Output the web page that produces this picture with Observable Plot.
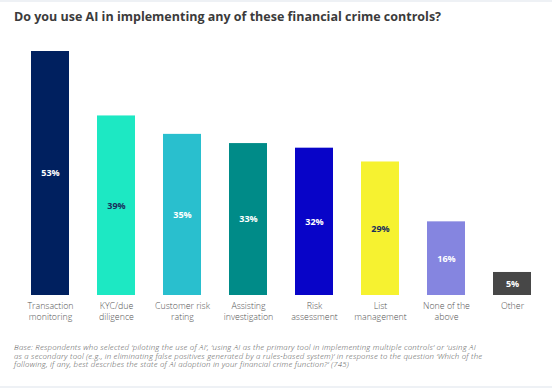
<!DOCTYPE html>
<html>
<head>
<meta charset="utf-8">
<script src="https://cdn.jsdelivr.net/npm/d3@7"></script>
<script src="https://cdn.jsdelivr.net/npm/@observablehq/plot@0.6"></script>
<style>
  html, body { margin: 0; padding: 0; background: #fff; }
  #wrap { position: relative; width: 552px; height: 388px; overflow: hidden;
          border-top: 2px solid #eef1f5; border-bottom: 2px solid #eef1f5; box-sizing: border-box; }
  #title { font-family: "Open Sans", sans-serif; font-weight: 700; font-size: 12.5px; color: #3b3b3b;
           height: 28px; padding-left: 14px; padding-top: 7px; box-sizing: border-box; line-height: 16px; }
  #note { font-family: "Open Sans", sans-serif; font-style: italic; font-weight: 300; font-size: 7.8px;
          color: #555; line-height: 8.6px; padding-left: 14px; margin-top: 13px; white-space: nowrap;
          letter-spacing: 0.22px; }
</style>
</head>
<body>
<div id="wrap">
  <div id="title">Do you use AI in implementing any of these financial crime controls?</div>
  <div id="chart"></div>
  <div id="note">Base: Respondents who selected ‘piloting the use of AI’, ‘using AI as the primary tool in implementing multiple controls’ or ‘using AI<br>as a secondary tool (e.g., in eliminating false positives generated by a rules-based system)’ in response to the question ‘Which of the<br>following, if any, best describes the state of AI adoption in your financial crime function?’ (745)</div>
</div>
<script>
const categories = ["Transaction\nmonitoring", "KYC/due\ndiligence", "Customer risk\nrating", "Assisting\ninvestigation", "Risk\nassessment", "List\nmanagement", "None of the\nabove", "Other"];
const values = [53, 39, 35, 33, 32, 29, 16, 5];
const colors = ["#00205f", "#1de8c3", "#29bfce", "#008b88", "#0804c8", "#f6f230", "#8585e0", "#474747"];
const labelColors = ["#ffffff", "#1b2f5c", "#ffffff", "#ffffff", "#ffffff", "#1b2f5c", "#ffffff", "#ffffff"];

const data = categories.map((c, i) => ({cat: c, value: values[i], color: colors[i], lc: labelColors[i]}));

const plot = Plot.plot({
  width: 552,
  height: 300,
  marginTop: 21,
  marginBottom: 35,
  marginLeft: 29,
  marginRight: 20,
  style: {fontFamily: "Open Sans, sans-serif", background: "#fff"},
  x: {domain: categories, paddingInner: 0.428, paddingOuter: 0, label: null},
  y: {domain: [0, 53], axis: null},
  marks: [
    Plot.barY(data, {x: "cat", y: "value", fill: "color"}),
    Plot.text(data, {x: "cat", y: d => d.value / 2, text: d => d.value + "%", fill: "lc",
      fontWeight: 700, fontSize: 9}),
    Plot.axisX({tickSize: 0, tickPadding: 5, fontSize: 8.8, fontWeight: 300, fill: "#555", lineHeight: 1.32, label: null})
  ]
});
document.getElementById("chart").appendChild(plot);
</script>
</body>
</html>
